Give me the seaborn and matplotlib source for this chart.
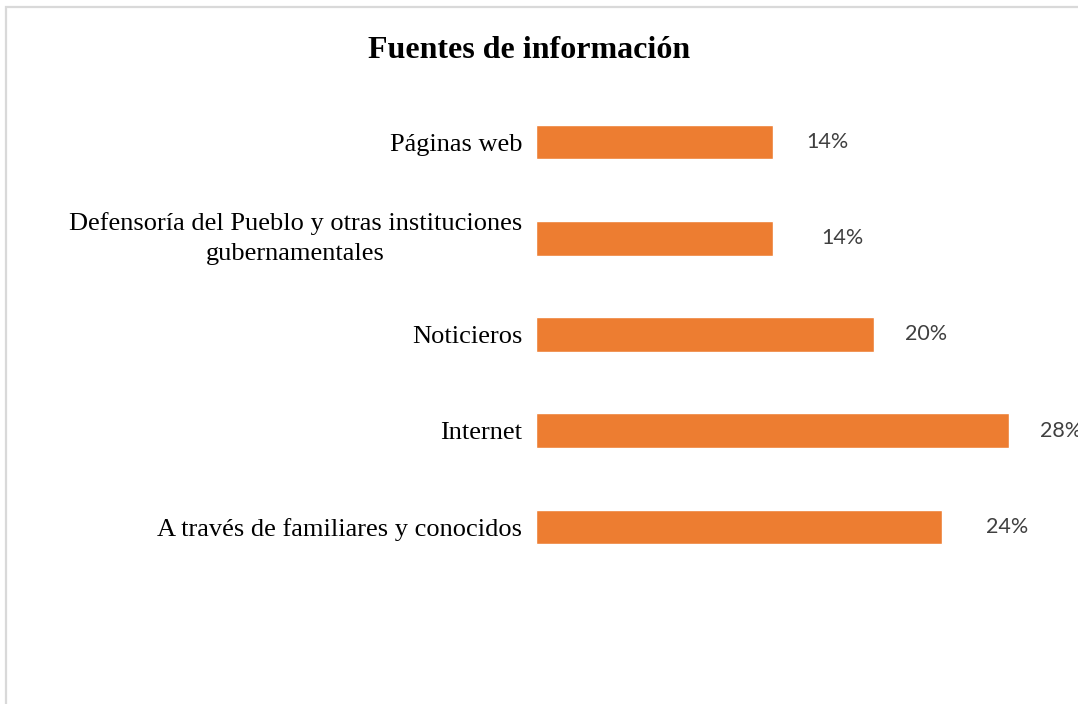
import matplotlib
matplotlib.use("Agg")
import matplotlib.pyplot as plt
from matplotlib.patches import Rectangle
import pandas as pd
import seaborn as sns

# Data
categories = ["Páginas web",
              "Defensoría del Pueblo y otras instituciones\ngubernamentales",
              "Noticieros",
              "Internet",
              "A través de familiares y conocidos"]
percentages = [14, 14, 20, 28, 24]
label_offsets = [2.0, 2.9, 1.8, 1.8, 2.6]  # gap between bar end and its label (in %)

df = pd.DataFrame({"Fuente": categories, "Porcentaje": percentages})

sns.set_style("white")
plt.rcParams['font.family'] = ['Liberation Serif', 'DejaVu Serif']

W, H = 1078, 704
fig = plt.figure(figsize=(W / 100, H / 100), dpi=100)
ax = fig.add_axes([536 / W, 1 - 575 / H, 541 / W, 481 / H])

sns.barplot(data=df, x="Porcentaje", y="Fuente", color="#ED7D31",
            saturation=1, width=0.36, ax=ax)

ax.set_xlim(0, 32)
ax.set_ylim(4.5, -0.5)
ax.set_xlabel("")
ax.set_ylabel("")
ax.set_xticks([])
sns.despine(ax=ax, left=True, bottom=True, top=True, right=True)
ax.tick_params(axis="y", length=0, pad=10, labelsize=19, labelcolor="#000000")
for lbl in ax.get_yticklabels():
    if "\n" in lbl.get_text():
        lbl.set_multialignment("center")
        lbl.set_linespacing(1.45)
        lbl.set_verticalalignment("center")

for i, (v, off) in enumerate(zip(percentages, label_offsets)):
    ax.text(v + off, i, f"{v}%", va="center", ha="left", fontsize=15.5,
            color="#404040", family="Lato", clip_on=False)

fig.text(529 / W, 1 - 50 / H, "Fuentes de información", ha="center", va="center",
         fontsize=23, fontweight="bold", color="#000000")

# light grey chart frame (cropped at right and bottom)
fig.patches.append(Rectangle((6 / W, -0.05), 1.1, 1 - 6.5 / H + 0.05,
                             transform=fig.transFigure, fill=False,
                             edgecolor="#d9d9d9", linewidth=1.6, zorder=0))

fig.savefig("out.png", dpi=100, facecolor="white")
